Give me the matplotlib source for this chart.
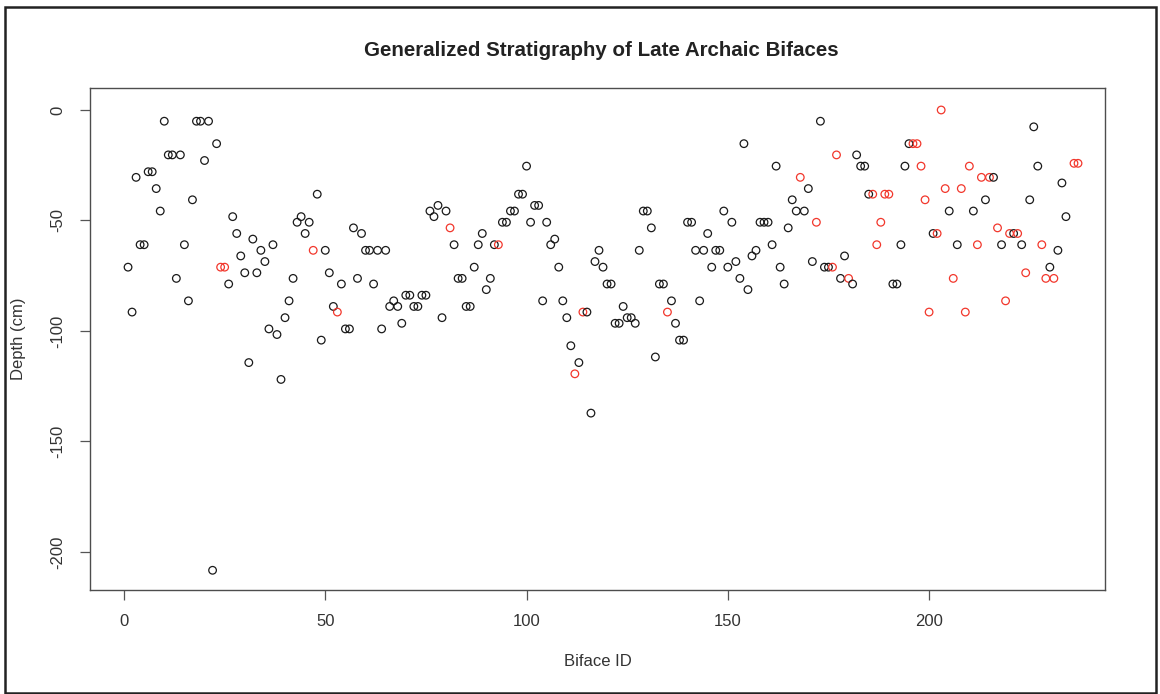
import matplotlib
matplotlib.use("Agg")
import matplotlib.pyplot as plt
from matplotlib.patches import Rectangle

plt.rcParams['font.family'] = ['Liberation Sans', 'DejaVu Sans']

# ---- data ----
biface_id = list(range(1, 235)) + [236, 237]

depth_cm = [
    -71.12, -91.44, -30.48, -60.96, -60.96, -27.94, -27.94, -35.56, -45.72, -5.08,      # 1-10
    -20.32, -20.32, -76.2, -20.32, -60.96, -86.36, -40.64, -5.08, -5.08, -22.86,        # 11-20
    -5.08, -208.28, -15.24, -71.12, -71.12, -78.74, -48.26, -55.88, -66.04, -73.66,     # 21-30
    -114.3, -58.42, -73.66, -63.5, -68.58, -99.06, -60.96, -101.6, -121.92, -93.98,     # 31-40
    -86.36, -76.2, -50.8, -48.26, -55.88, -50.8, -63.5, -38.1, -104.14, -63.5,          # 41-50
    -73.66, -88.9, -91.44, -78.74, -99.06, -99.06, -53.34, -76.2, -55.88, -63.5,        # 51-60
    -63.5, -78.74, -63.5, -99.06, -63.5, -88.9, -86.36, -88.9, -96.52, -83.82,          # 61-70
    -83.82, -88.9, -88.9, -83.82, -83.82, -45.72, -48.26, -43.18, -93.98, -45.72,       # 71-80
    -53.34, -60.96, -76.2, -76.2, -88.9, -88.9, -71.12, -60.96, -55.88, -81.28,         # 81-90
    -76.2, -60.96, -60.96, -50.8, -50.8, -45.72, -45.72, -38.1, -38.1, -25.4,           # 91-100
    -50.8, -43.18, -43.18, -86.36, -50.8, -60.96, -58.42, -71.12, -86.36, -93.98,       # 101-110
    -106.68, -119.38, -114.3, -91.44, -91.44, -137.16, -68.58, -63.5, -71.12, -78.74,   # 111-120
    -78.74, -96.52, -96.52, -88.9, -93.98, -93.98, -96.52, -63.5, -45.72, -45.72,       # 121-130
    -53.34, -111.76, -78.74, -78.74, -91.44, -86.36, -96.52, -104.14, -104.14, -50.8,   # 131-140
    -50.8, -63.5, -86.36, -63.5, -55.88, -71.12, -63.5, -63.5, -45.72, -71.12,          # 141-150
    -50.8, -68.58, -76.2, -15.24, -81.28, -66.04, -63.5, -50.8, -50.8, -50.8,           # 151-160
    -60.96, -25.4, -71.12, -78.74, -53.34, -40.64, -45.72, -30.48, -45.72, -35.56,      # 161-170
    -68.58, -50.8, -5.08, -71.12, -71.12, -71.12, -20.32, -76.2, -66.04, -76.2,         # 171-180
    -78.74, -20.32, -25.4, -25.4, -38.1, -38.1, -60.96, -50.8, -38.1, -38.1,            # 181-190
    -78.74, -78.74, -60.96, -25.4, -15.24, -15.24, -15.24, -25.4, -40.64, -91.44,       # 191-200
    -55.88, -55.88, 0.0, -35.56, -45.72, -76.2, -60.96, -35.56, -91.44, -25.4,          # 201-210
    -45.72, -60.96, -30.48, -40.64, -30.48, -30.48, -53.34, -60.96, -86.36, -55.88,     # 211-220
    -55.88, -55.88, -60.96, -73.66, -40.64, -7.62, -25.4, -60.96, -76.2, -71.12,        # 221-230
    -76.2, -63.5, -33.02, -48.26, -24.13, -24.13,                                       # 231-234, 236, 237
]

red_ids = [24, 25, 47, 53, 81, 93, 112, 114, 135, 168, 172, 176, 177, 180, 186, 187,
           188, 189, 190, 196, 197, 198, 199, 200, 202, 203, 204, 206, 208, 209, 210,
           212, 213, 215, 217, 219, 220, 222, 224, 228, 229, 231, 236, 237]

x_ticks = [0, 50, 100, 150, 200]
y_ticks = [0, -50, -100, -150, -200]

title = "Generalized Stratigraphy of Late Archaic Bifaces"
x_label = "Biface ID"
y_label = "Depth (cm)"

# ---- drawing ----
W, H = 1160, 694
fig = plt.figure(figsize=(W / 100, H / 100), dpi=100)
fig.patch.set_facecolor('white')

L, R, T, B = 90, 1105, 88, 590
ax = fig.add_axes([L / W, 1 - B / H, (R - L) / W, (B - T) / H])

red_set = set(red_ids)
colors = ['#f2372c' if i in red_set else '#1a1a1a' for i in biface_id]
ax.scatter(biface_id, depth_cm, s=30, facecolors='none', edgecolors=colors,
           linewidths=0.9, zorder=3)

ax.set_xlim(-8.45, 243.7)
ax.set_ylim(-217.2, 9.95)
ax.set_xticks(x_ticks)
ax.set_yticks(y_ticks)
ax.set_xticklabels([str(v) for v in x_ticks])
ax.set_yticklabels([str(v) for v in y_ticks], rotation=90, va='center')

for sp in ax.spines.values():
    sp.set_color('#4d4d4d')
    sp.set_linewidth(1.0)
ax.tick_params(axis='both', direction='out', length=7.5, width=0.9, color='#555555',
               labelsize=12, labelcolor='#333333', pad=10)

fig.text((L + R) / 2 / W + 0.003, 1 - 50 / H, title, ha='center', va='center',
         fontsize=14.8, fontweight='bold', color='#222222')
fig.text((L + R) / 2 / W, 1 - 662 / H, x_label, ha='center', va='center',
         fontsize=12, color='#333333')
fig.text(19 / W, 1 - 339 / H, y_label, ha='center', va='center', rotation=90,
         fontsize=12, color='#333333')

# outer frame
fig.patches.append(Rectangle((5 / W, 1.5 / H), 1151 / W, 686 / H, transform=fig.transFigure,
                             fill=False, edgecolor='#222222', linewidth=1.8, zorder=10))

fig.savefig('out.png', dpi=100, facecolor='white')
